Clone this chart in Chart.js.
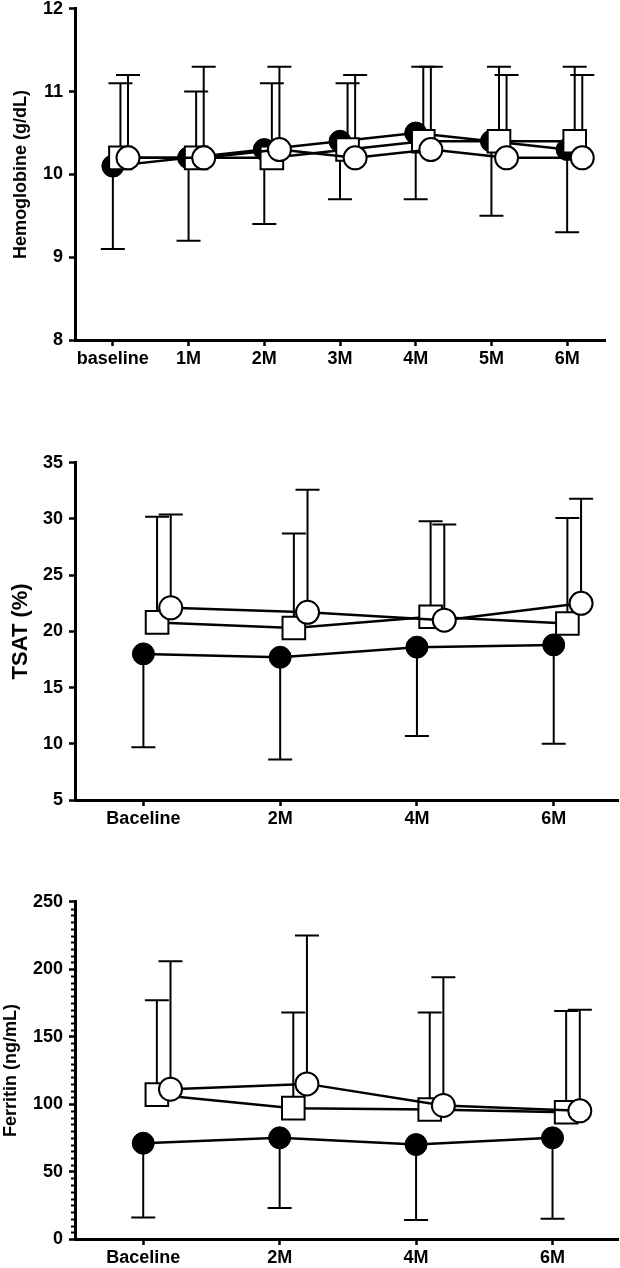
<!DOCTYPE html>
<html>
<head>
<meta charset="utf-8">
<script src="https://cdn.jsdelivr.net/npm/chart.js@4.4.1/dist/chart.umd.min.js"></script>
<style>
html, body { margin: 0; padding: 0; background: #fff; }
#page { position: relative; width: 620px; height: 1268px; overflow: hidden; }
canvas { position: absolute; left: 0; }
</style>
</head>
<body>
<div id="page">
<canvas id="hbChart" width="620" height="388" style="top:-8px"></canvas>
<canvas id="tsatChart" width="620" height="394" style="top:446px"></canvas>
<canvas id="ferritinChart" width="620" height="383" style="top:885px"></canvas>
</div>
<script>
// Hemoglobine
var hbLabels = ['baseline', '1M', '2M', '3M', '4M', '5M', '6M'];
var hbBlack = [10.1, 10.2, 10.3, 10.4, 10.5, 10.4, 10.3];
var hbBlackLow = [9.1, 9.2, 9.4, 9.7, 9.7, 9.5, 9.3];
var hbSquare = [10.2, 10.2, 10.2, 10.3, 10.4, 10.4, 10.4];
var hbSquareHigh = [11.1, 11.0, 11.1, 11.1, 11.3, 11.3, 11.3];
var hbCircle = [10.2, 10.2, 10.3, 10.2, 10.3, 10.2, 10.2];
var hbCircleHigh = [11.2, 11.3, 11.3, 11.2, 11.3, 11.2, 11.2];

// TSAT
var tsatLabels = ['Baceline', '2M', '4M', '6M'];
var tsatBlack = [18.0, 17.7, 18.6, 18.8];
var tsatBlackLow = [9.7, 8.6, 10.7, 10.0];
var tsatSquare = [20.8, 20.3, 21.3, 20.7];
var tsatSquareHigh = [30.2, 28.7, 29.8, 30.1];
var tsatCircle = [22.1, 21.7, 21.0, 22.5];
var tsatCircleHigh = [30.4, 32.6, 29.5, 31.8];

// Ferritin
var ferLabels = ['Baceline', '2M', '4M', '6M'];
var ferBlack = [71, 75, 70, 75];
var ferBlackLow = [16, 23, 14, 15];
var ferSquare = [107, 97, 96, 94];
var ferSquareHigh = [177, 168, 168, 169];
var ferCircle = [111, 115, 99, 95];
var ferCircleHigh = [206, 225, 194, 170];

Chart.defaults.font.family = '"Liberation Sans", Arial, sans-serif';
Chart.defaults.font.weight = 'bold';
Chart.defaults.font.size = 18;
Chart.defaults.color = '#000';

var errorBarPlugin = {
    id: 'errorBars',
    beforeDatasetsDraw: function (chart) {
        var ctx = chart.ctx;
        var yScale = chart.scales.y;
        ctx.save();
        ctx.strokeStyle = '#000';
        ctx.lineWidth = 2;
        chart.data.datasets.forEach(function (ds, i) {
            if (!ds.errorEnds) return;
            var meta = chart.getDatasetMeta(i);
            meta.data.forEach(function (pt, j) {
                var yEnd = yScale.getPixelForValue(ds.errorEnds[j]);
                ctx.beginPath();
                ctx.moveTo(pt.x, pt.y);
                ctx.lineTo(pt.x, yEnd);
                ctx.moveTo(pt.x - 12, yEnd);
                ctx.lineTo(pt.x + 12, yEnd);
                ctx.stroke();
            });
        });
        ctx.restore();
    }
};

// small ticks between the labelled ones (ferritin axis)
var minorTicksPlugin = {
    id: 'minorTicks',
    afterDraw: function (chart) {
        var y = chart.scales.y;
        var ctx = chart.ctx;
        ctx.save();
        ctx.strokeStyle = '#000';
        ctx.lineWidth = 2;
        ctx.beginPath();
        for (var v = y.min; v <= y.max; v += 5) {
            if (v % 50 === 0) continue;
            var py = Math.round(y.getPixelForValue(v)) + 0.5;
            ctx.moveTo(y.right - 4, py);
            ctx.lineTo(y.right, py);
        }
        ctx.stroke();
        ctx.restore();
    }
};

function toPoints(values, shift) {
    return values.map(function (v, i) { return { x: i + shift, y: v }; });
}

function createChart(id, labels, black, blackLow, square, squareHigh, circle, circleHigh, o) {
    var ctx = document.getElementById(id).getContext('2d');
    var plugins = [errorBarPlugin];
    if (o.minor) plugins.push(minorTicksPlugin);
    return new Chart(ctx, {
        type: 'line',
        data: {
            datasets: [{
                data: toPoints(circle, 0.2),
                errorEnds: circleHigh,
                borderColor: '#000',
                borderWidth: 2.5,
                pointStyle: 'circle',
                pointRadius: 11.5,
                pointBackgroundColor: '#fff',
                pointBorderColor: '#000',
                pointBorderWidth: 2
            }, {
                data: toPoints(square, 0.1),
                errorEnds: squareHigh,
                borderColor: '#000',
                borderWidth: 2.5,
                pointStyle: 'rect',
                pointRadius: 16,
                pointBackgroundColor: '#fff',
                pointBorderColor: '#000',
                pointBorderWidth: 2
            }, {
                data: toPoints(black, 0),
                errorEnds: blackLow,
                borderColor: '#000',
                borderWidth: 2.5,
                pointStyle: 'circle',
                pointRadius: 11,
                pointBackgroundColor: '#000',
                pointBorderColor: '#000',
                pointBorderWidth: 1
            }]
        },
        options: {
            responsive: false,
            animation: false,
            events: [],
            layout: { autoPadding: false, padding: { top: 12, right: o.right, left: 0, bottom: 0 } },
            plugins: { legend: { display: false }, tooltip: { enabled: false } },
            scales: {
                x: {
                    type: 'linear',
                    min: -0.5,
                    max: o.xMax,
                    afterBuildTicks: function (scale) {
                        scale.ticks = labels.map(function (l, i) { return { value: i }; });
                    },
                    afterFit: function (scale) {
                        scale.height = o.xHeight;
                        scale.paddingLeft = 0;
                        scale.paddingRight = 0;
                    },
                    ticks: {
                        padding: 2,
                        maxRotation: 0,
                        callback: function (v) { return labels[v]; }
                    },
                    grid: { drawOnChartArea: false, tickLength: 6, tickWidth: 2.5, tickColor: '#000' },
                    border: { display: true, color: '#000', width: 3 }
                },
                y: {
                    min: o.yMin,
                    max: o.yMax,
                    afterFit: function (scale) { scale.width = 75; },
                    ticks: { stepSize: o.step, padding: 6 },
                    grid: { drawOnChartArea: false, tickLength: 6, tickWidth: 2.5, tickColor: '#000' },
                    border: { display: true, color: '#000', width: 3 },
                    title: {
                        display: true,
                        text: o.title,
                        font: { size: o.titleSize, weight: 'bold' },
                        padding: { top: o.titlePad, bottom: 0 }
                    }
                }
            }
        },
        plugins: plugins
    });
}

var hbChart = createChart('hbChart', hbLabels, hbBlack, hbBlackLow, hbSquare, hbSquareHigh, hbCircle, hbCircleHigh,
    { yMin: 8, yMax: 12, step: 1, xMax: 6.5, right: 15, xHeight: 40, title: 'Hemoglobine (g/dL)', titleSize: 18, titlePad: 10 });
var tsatChart = createChart('tsatChart', tsatLabels, tsatBlack, tsatBlackLow, tsatSquare, tsatSquareHigh, tsatCircle, tsatCircleHigh,
    { yMin: 5, yMax: 35, step: 5, xMax: 3.47, right: 2, xHeight: 40, title: 'TSAT (%)', titleSize: 22, titlePad: 8 });
var ferritinChart = createChart('ferritinChart', ferLabels, ferBlack, ferBlackLow, ferSquare, ferSquareHigh, ferCircle, ferCircleHigh,
    { yMin: 0, yMax: 250, step: 50, xMax: 3.48, right: 2, xHeight: 29, title: 'Ferritin (ng/mL)', titleSize: 18, titlePad: 0, minor: true });
</script>
</body>
</html>
